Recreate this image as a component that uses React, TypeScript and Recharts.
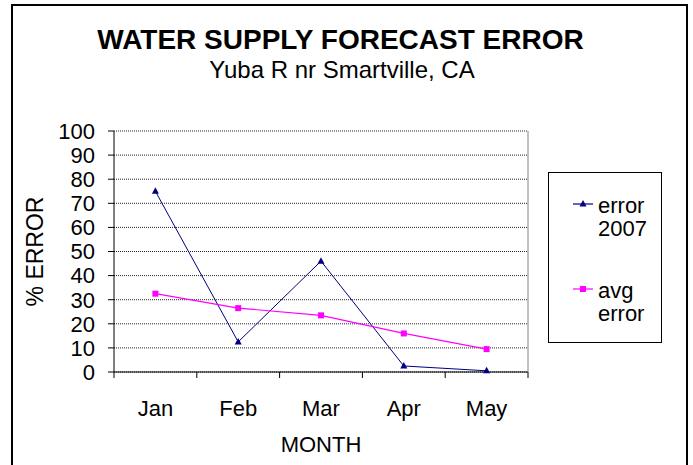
import { CartesianGrid, Legend, Line, LineChart, XAxis, YAxis } from "recharts";

const months = ["Jan", "Feb", "Mar", "Apr", "May"];
const error2007 = [75, 12.5, 46, 2.5, 0.5];
const avgError = [32.5, 26.5, 23.5, 16, 9.5];
const yTicks = [0, 10, 20, 30, 40, 50, 60, 70, 80, 90, 100];
const seriesOrder = ["error2007", "avgError"];

const data = months.map((m, i) => ({ month: m, error2007: error2007[i], avgError: avgError[i] }));

const NAVY = "#000080";
const MAGENTA = "#FF00FF";
const FONT = '"Liberation Sans", Arial, sans-serif';
const TICK_MARGIN = 28;

function Triangle(props: any) {
  const { cx, cy } = props;
  if (cx == null || cy == null) return null;
  return <polygon points={`${cx},${cy - 4} ${cx - 3.5},${cy + 2.5} ${cx + 3.5},${cy + 2.5}`} fill={NAVY} />;
}

function Square(props: any) {
  const { cx, cy } = props;
  if (cx == null || cy == null) return null;
  return <rect x={cx - 3} y={cy - 3} width={6} height={6} fill={MAGENTA} />;
}

function MonthTick(props: any) {
  const { x, y, payload, index, visibleTicksCount } = props;
  const half = payload?.offset ?? 0;
  const axisY = y - TICK_MARGIN;
  return (
    <g>
      <line x1={x - half} x2={x - half} y1={axisY} y2={axisY + 6} stroke="#000" />
      {index === visibleTicksCount - 1 && (
        <line x1={x + half} x2={x + half} y1={axisY} y2={axisY + 6} stroke="#000" />
      )}
      <text x={x} y={y} dy="0.71em" textAnchor="middle" fontSize={22} fill="#000">
        {payload.value}
      </text>
    </g>
  );
}

function LegendBox(props: any) {
  const items = [...(props.payload || [])].sort(
    (a: any, b: any) => seriesOrder.indexOf(a.dataKey) - seriesOrder.indexOf(b.dataKey)
  );
  return (
    <div style={{ paddingTop: 21, paddingLeft: 24, fontFamily: FONT }}>
      {items.map((it: any, i: number) => (
        <div key={i} style={{ display: "flex", alignItems: "flex-start", marginBottom: 39 }}>
          <svg width={20} height={23} style={{ marginRight: 5, flex: "none" }}>
            <line x1={0} x2={20} y1={10} y2={10} stroke={it.color} strokeOpacity={0.6} strokeWidth={2} />
            {it.dataKey === "error2007" ? (
              <polygon points="10,6 6.5,12.5 13.5,12.5" fill={NAVY} />
            ) : (
              <rect x={7} y={7} width={6} height={6} fill={MAGENTA} />
            )}
          </svg>
          <div style={{ width: 60, fontSize: 22, lineHeight: "23px", color: "#000" }}>{it.value}</div>
        </div>
      ))}
    </div>
  );
}

export default function App() {
  return (
    <div
      style={{
        position: "absolute",
        left: 0,
        top: 0,
        width: 693,
        height: 465,
        overflow: "hidden",
        background: "#fff",
        fontFamily: FONT,
      }}
    >
      <div
        style={{
          position: "absolute",
          left: 11,
          top: 4,
          width: 673,
          height: 480,
          border: "2px solid #000",
        }}
      />
      <div
        style={{
          position: "absolute",
          left: 0,
          width: 681,
          top: 23,
          textAlign: "center",
          fontWeight: "bold",
          fontSize: 28,
          lineHeight: "34px",
        }}
      >
        WATER SUPPLY FORECAST ERROR
      </div>
      <div
        style={{
          position: "absolute",
          left: 0,
          width: 684,
          top: 56,
          textAlign: "center",
          fontSize: 24,
          lineHeight: "28px",
        }}
      >
        Yuba R nr Smartville, CA
      </div>
      <div style={{ position: "absolute", left: 0, top: 0 }}>
        <LineChart
          width={693}
          height={465}
          data={data}
          margin={{ top: 131, right: 164, bottom: 13, left: 14 }}
        >
          <CartesianGrid vertical={false} stroke="#222" strokeDasharray="1 1" />
          <XAxis
            dataKey="month"
            scale="band"
            height={80}
            axisLine={{ stroke: "#000" }}
            tickLine={false}
            tickSize={0}
            tickMargin={TICK_MARGIN}
            tick={<MonthTick />}
            label={{ value: "MONTH", position: "insideBottom", offset: 0, fontSize: 22, fill: "#000" }}
          />
          <YAxis
            domain={[0, 100]}
            ticks={yTicks}
            width={100}
            interval={0}
            axisLine={{ stroke: "#000" }}
            tickLine={{ stroke: "#000" }}
            tickSize={6}
            tickMargin={13}
            tick={{ fontSize: 22, fill: "#000" }}
            label={{
              value: "% ERROR",
              angle: -90,
              position: "insideLeft",
              offset: 21,
              fontSize: 23,
              fill: "#000",
              style: { textAnchor: "middle" },
            }}
          />
          <YAxis
            yAxisId="right"
            orientation="right"
            domain={[0, 100]}
            width={1}
            tick={false}
            tickLine={false}
            axisLine={{ stroke: "#808080" }}
          />
          <Legend
            layout="vertical"
            align="center"
            verticalAlign="middle"
            content={<LegendBox />}
            wrapperStyle={{
              position: "absolute",
              left: 548,
              top: 172,
              width: 114,
              height: 171,
              border: "1px solid #000",
              boxSizing: "border-box",
              background: "#fff",
            }}
          />
          <Line
            name="error 2007"
            dataKey="error2007"
            stroke={NAVY}
            strokeWidth={1}
            dot={<Triangle />}
            activeDot={false}
            isAnimationActive={false}
          />
          <Line
            name="avg error"
            dataKey="avgError"
            stroke={MAGENTA}
            strokeWidth={1.2}
            dot={<Square />}
            activeDot={false}
            isAnimationActive={false}
          />
        </LineChart>
      </div>
    </div>
  );
}
